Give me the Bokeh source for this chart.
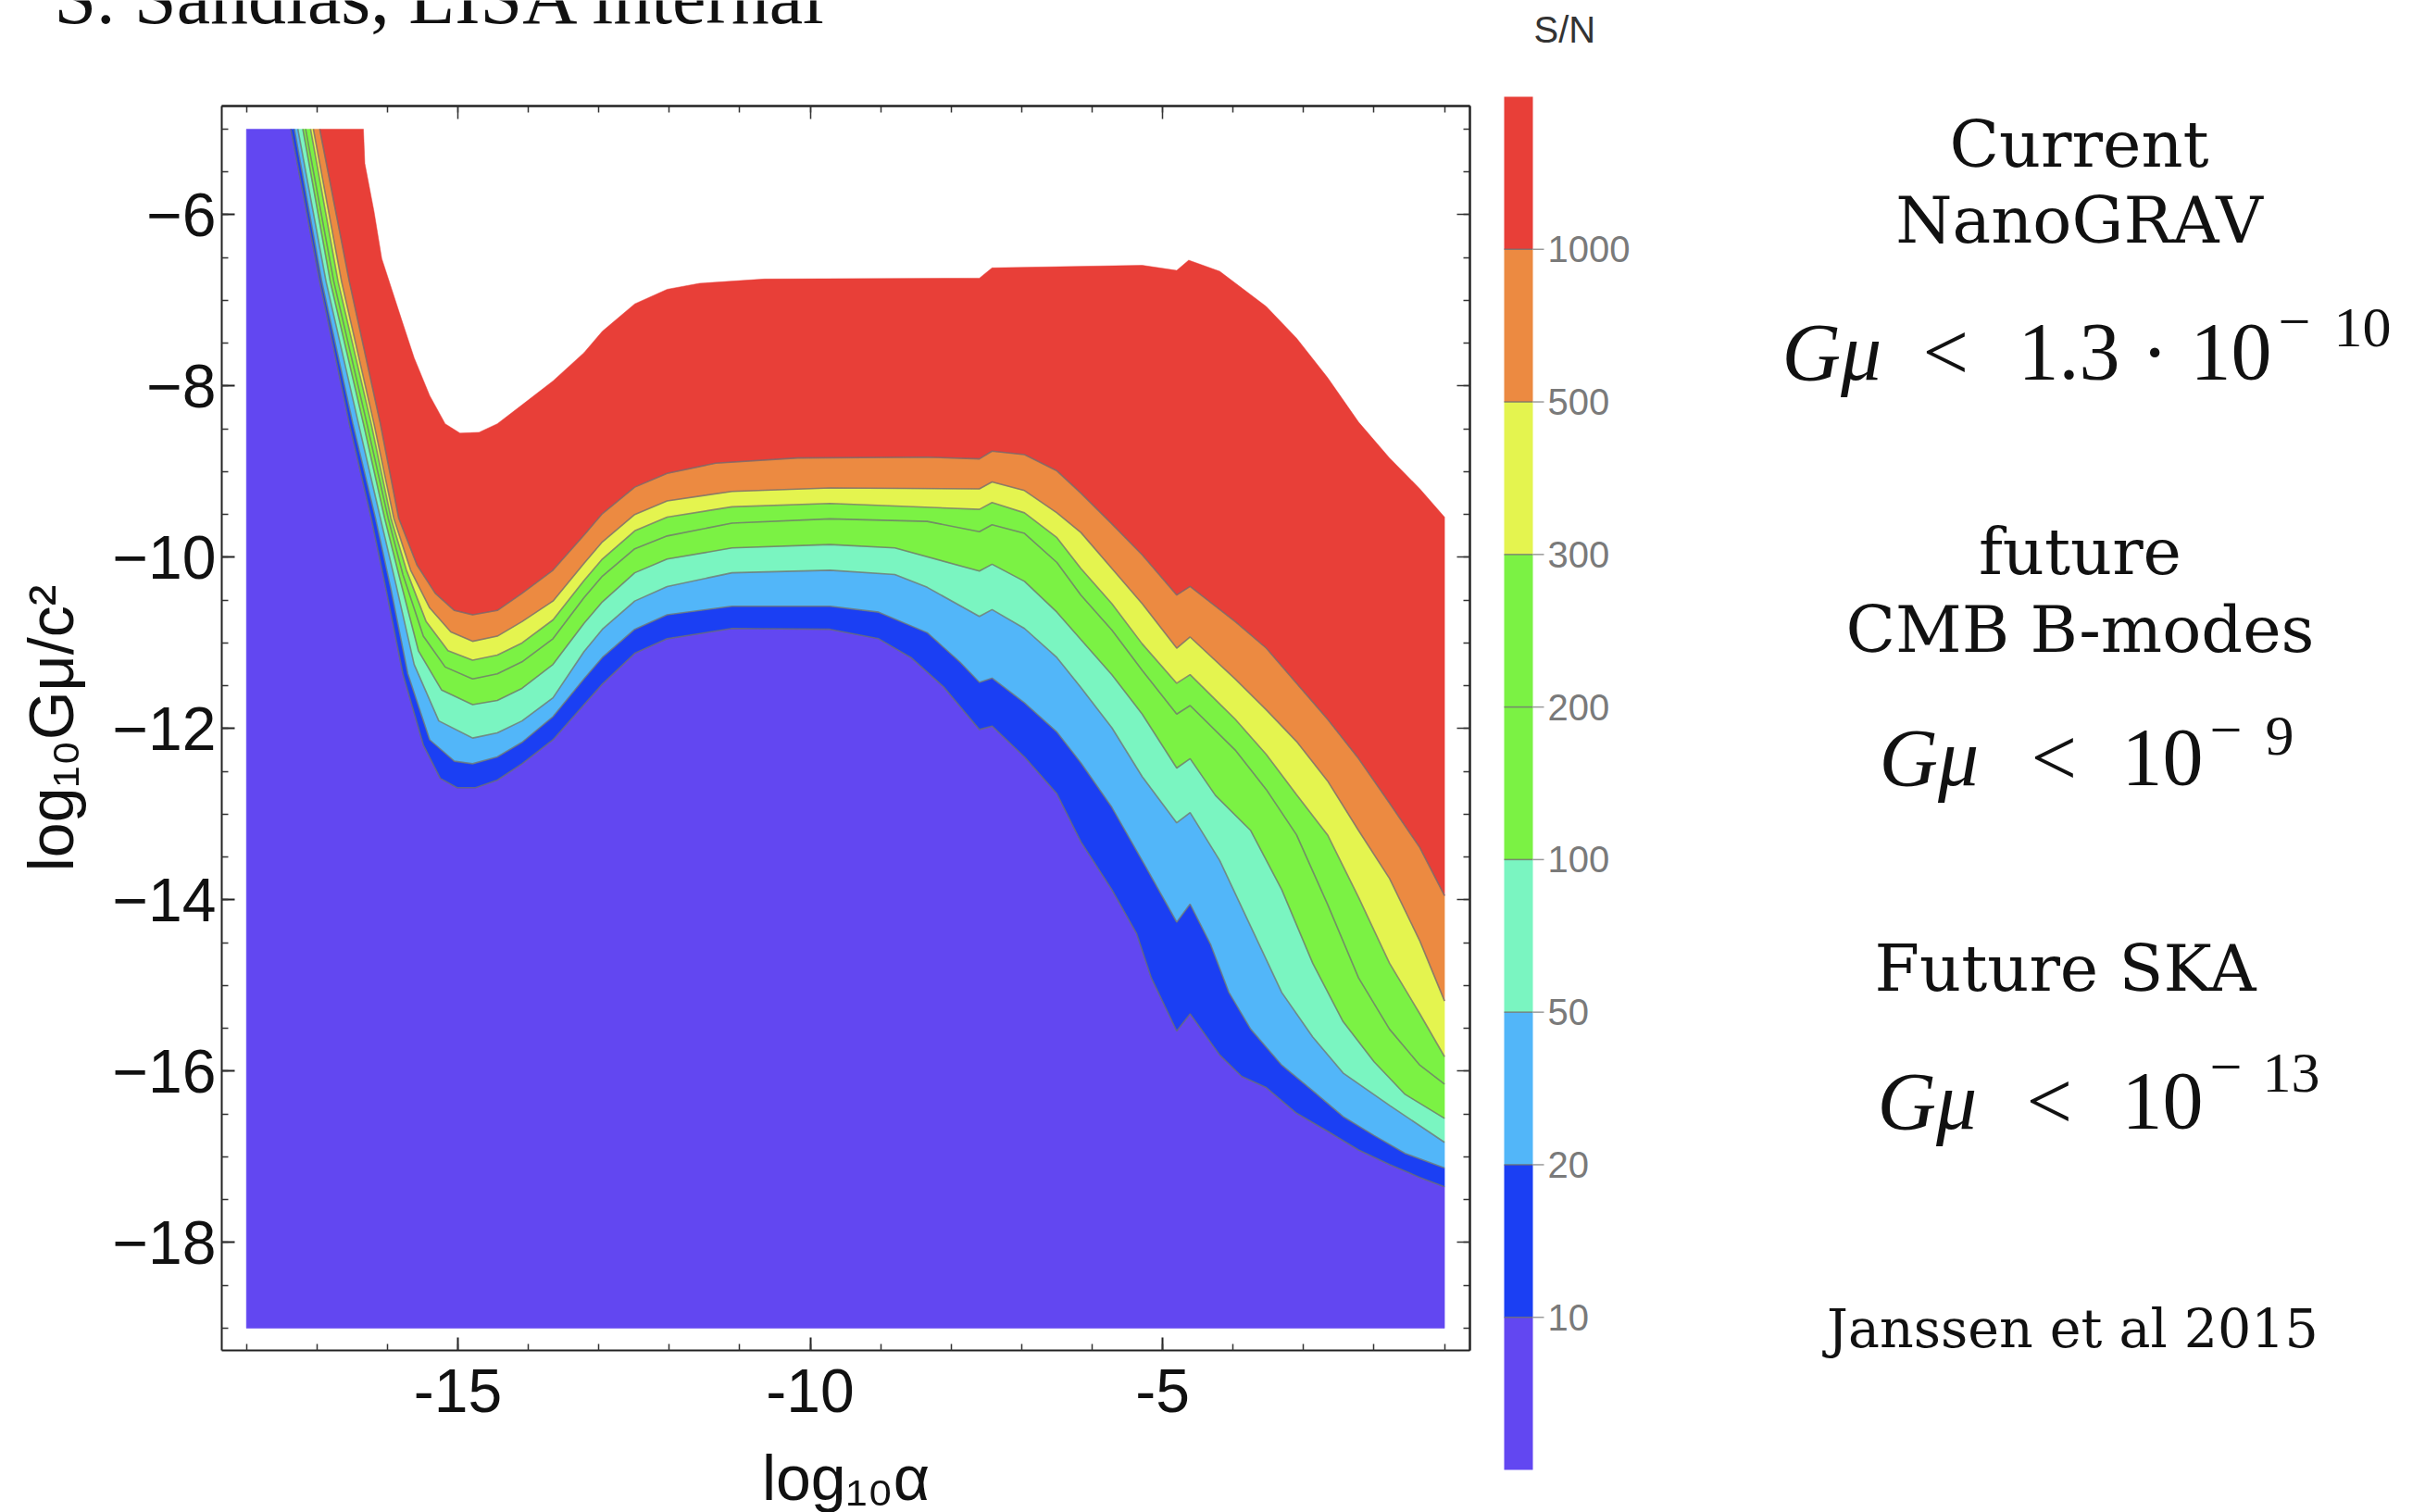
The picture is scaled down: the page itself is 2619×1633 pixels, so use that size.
from bokeh.plotting import figure
from bokeh.models import Range1d, FixedTicker, LinearAxis
from bokeh.embed import file_html
from bokeh.resources import INLINE
from bokeh.core.properties import value

# ---------------- data ----------------
alpha_min, alpha_max = -18.0, -1.0     # log10 alpha extent of computed region
gmu_min, gmu_max = -19.0, -5.0         # log10 G mu / c^2 extent
alpha_view = (-18.35, -0.64)           # axis frame limits
gmu_view = (-19.26, -4.73)

sn_levels = [10, 20, 50, 100, 200, 300, 500, 1000]
band_colors = ["#6247F1", "#1B3FF3", "#52B6F9", "#7AF5C1", "#7BF244",
               "#7BF244", "#E4F44F", "#EC8A41", "#E83F38"]

c10_x = [-17.37, -16.96, -16.54, -16.23, -16.02, -15.78, -15.49, -15.25, -15.01, -14.75, -14.44, -14.09,
         -13.65, -13.21, -12.95, -12.49, -12.03, -11.11, -9.72, -9.03, -8.57, -8.11, -7.60, -7.42, -6.96,
         -6.50, -6.16, -5.72, -5.37, -5.16, -4.80, -4.61, -4.19, -3.88, -3.53, -3.10, -2.66, -2.22, -1.78,
         -1.35, -1.00]
c10_y = [-5.00, -6.78, -8.44, -9.54, -10.37, -11.36, -12.19, -12.58, -12.69, -12.69, -12.60, -12.41,
         -12.13, -11.72, -11.48, -11.12, -10.95, -10.83, -10.84, -10.95, -11.17, -11.51, -12.01, -11.97,
         -12.33, -12.76, -13.32, -13.88, -14.39, -14.91, -15.53, -15.33, -15.81, -16.06, -16.19, -16.49,
         -16.70, -16.92, -17.09, -17.24, -17.35]
c20_x = [-17.32, -16.93, -16.49, -16.17, -15.95, -15.71, -15.40, -15.05, -14.79, -14.44, -14.09, -13.65,
         -13.21, -12.95, -12.49, -12.03, -11.11, -9.72, -9.03, -8.34, -7.88, -7.60, -7.42, -6.96, -6.50,
         -6.16, -5.72, -5.25, -4.80, -4.61, -4.32, -4.06, -3.75, -3.31, -2.87, -2.44, -2.00, -1.56, -1.00]
c20_y = [-5.00, -6.78, -8.44, -9.54, -10.37, -11.36, -12.13, -12.38, -12.41, -12.33, -12.16, -11.86,
         -11.42, -11.17, -10.84, -10.67, -10.57, -10.57, -10.64, -10.88, -11.22, -11.46, -11.41, -11.70,
         -12.04, -12.40, -12.92, -13.60, -14.26, -14.05, -14.52, -15.08, -15.51, -15.93, -16.23, -16.53,
         -16.75, -16.96, -17.13]
c50_x = [-17.27, -16.87, -16.41, -16.10, -15.88, -15.62, -15.27, -14.79, -14.44, -14.09, -13.65, -13.21,
         -12.95, -12.49, -12.03, -11.11, -9.72, -8.80, -8.34, -7.60, -7.42, -6.96, -6.50, -6.16, -5.72,
         -5.29, -4.80, -4.61, -4.19, -3.75, -3.31, -2.87, -2.44, -1.78, -1.00]
c50_y = [-5.00, -6.78, -8.44, -9.54, -10.31, -11.25, -11.91, -12.11, -12.05, -11.91, -11.64, -11.10,
         -10.84, -10.51, -10.34, -10.18, -10.15, -10.20, -10.35, -10.69, -10.61, -10.83, -11.17, -11.52,
         -11.99, -12.56, -13.10, -12.98, -13.54, -14.31, -15.08, -15.60, -16.02, -16.40, -16.83]
c100_x = [-17.20, -16.81, -16.34, -16.04, -15.82, -15.56, -15.23, -14.79, -14.44, -14.09, -13.65, -13.21,
          -12.95, -12.49, -12.03, -11.11, -9.72, -8.80, -7.60, -7.42, -6.96, -6.50, -6.16, -5.72, -5.29,
          -4.80, -4.61, -4.25, -3.75, -3.31, -2.87, -2.44, -2.00, -1.56, -1.00]
c100_y = [-5.00, -6.78, -8.44, -9.54, -10.26, -11.09, -11.55, -11.72, -11.67, -11.53, -11.25, -10.77,
          -10.52, -10.18, -10.02, -9.89, -9.85, -9.89, -10.16, -10.08, -10.28, -10.64, -10.96, -11.37,
          -11.83, -12.46, -12.35, -12.78, -13.19, -13.88, -14.74, -15.42, -15.89, -16.27, -16.55]
c200_x = [-17.16, -16.76, -16.29, -15.99, -15.78, -15.49, -15.18, -14.79, -14.44, -14.09, -13.65, -13.21,
          -12.95, -12.49, -12.03, -11.11, -9.72, -8.34, -7.60, -7.42, -6.96, -6.50, -6.16, -5.72, -5.29,
          -4.80, -4.61, -3.97, -3.53, -3.10, -2.66, -2.22, -1.78, -1.35, -1.00]
c200_y = [-5.00, -6.78, -8.44, -9.54, -10.20, -10.92, -11.28, -11.42, -11.36, -11.22, -10.95, -10.47,
          -10.22, -9.90, -9.75, -9.60, -9.55, -9.58, -9.70, -9.62, -9.72, -10.06, -10.44, -10.85, -11.32,
          -11.83, -11.73, -12.25, -12.71, -13.24, -14.05, -14.91, -15.51, -15.93, -16.15]
c300_x = [-17.09, -16.70, -16.23, -15.95, -15.73, -15.45, -15.14, -14.79, -14.44, -14.09, -13.65, -13.21,
          -12.95, -12.49, -12.03, -11.11, -9.72, -7.60, -7.42, -6.96, -6.50, -6.16, -5.72, -5.29, -4.80,
          -4.61, -3.97, -3.53, -3.10, -2.66, -2.22, -1.78, -1.35, -1.00]
c300_y = [-5.00, -6.78, -8.44, -9.54, -10.15, -10.75, -11.09, -11.20, -11.14, -11.00, -10.73, -10.27,
          -10.02, -9.69, -9.53, -9.41, -9.37, -9.44, -9.36, -9.48, -9.77, -10.13, -10.54, -11.01, -11.47,
          -11.37, -11.89, -12.30, -12.77, -13.24, -13.97, -14.74, -15.33, -15.83]
c500_x = [-17.05, -16.65, -16.19, -15.91, -15.67, -15.40, -15.10, -14.79, -14.44, -14.09, -13.65, -13.21,
          -12.95, -12.49, -12.03, -11.11, -9.72, -7.60, -7.42, -6.96, -6.50, -6.16, -5.72, -5.29, -4.80,
          -4.61, -3.97, -3.53, -3.10, -2.66, -2.22, -1.78, -1.35, -1.00]
c500_y = [-5.00, -6.78, -8.44, -9.54, -10.15, -10.59, -10.87, -10.98, -10.92, -10.75, -10.51, -10.07,
          -9.82, -9.50, -9.34, -9.23, -9.19, -9.20, -9.12, -9.22, -9.48, -9.71, -10.13, -10.54, -11.06,
          -10.93, -11.42, -11.78, -12.15, -12.61, -13.19, -13.75, -14.48, -15.18]
c1000_x = [-16.96, -16.54, -16.10, -15.84, -15.58, -15.32, -15.05, -14.79, -14.44, -14.09, -13.65, -13.21,
           -12.95, -12.49, -12.03, -11.34, -10.18, -8.34, -7.60, -7.42, -6.96, -6.50, -6.16, -5.72, -5.29,
           -4.80, -4.61, -3.97, -3.53, -3.10, -2.66, -2.22, -1.78, -1.35, -1.00]
c1000_y = [-5.00, -6.78, -8.44, -9.54, -10.09, -10.42, -10.62, -10.67, -10.62, -10.42, -10.15, -9.74,
           -9.49, -9.18, -9.02, -8.90, -8.84, -8.83, -8.85, -8.76, -8.80, -8.99, -9.25, -9.61, -9.97,
           -10.44, -10.34, -10.75, -11.06, -11.47, -11.89, -12.35, -12.87, -13.39, -13.95]
top_x = [-16.34, -16.32, -16.19, -16.08, -15.93, -15.80, -15.62, -15.40, -15.18, -14.97, -14.70, -14.44,
         -14.09, -13.65, -13.21, -12.95, -12.49, -12.03, -11.57, -10.65, -7.60, -7.42, -5.29, -4.80, -4.63,
         -4.19, -3.53, -3.10, -2.66, -2.22, -1.78, -1.35, -1.00]
top_y = [-5.00, -5.40, -5.96, -6.51, -6.89, -7.22, -7.67, -8.11, -8.44, -8.55, -8.54, -8.44, -8.22,
         -7.94, -7.61, -7.36, -7.04, -6.87, -6.80, -6.75, -6.74, -6.62, -6.59, -6.65, -6.53, -6.66, -7.07,
         -7.44, -7.90, -8.42, -8.84, -9.20, -9.53]

x_major = [-15, -10, -5]
x_minor = [-18, -17, -16, -15, -14, -13, -12, -11, -10, -9, -8, -7, -6, -5, -4, -3, -2, -1]
y_major = [-18, -16, -14, -12, -10, -8, -6]
y_minor = [-19, -18.5, -18, -17.5, -17, -16.5, -16, -15.5, -15, -14.5, -14, -13.5, -13, -12.5, -12,
           -11.5, -11, -10.5, -10, -9.5, -9, -8.5, -8, -7.5, -7, -6.5, -6, -5.5, -5]

# ---------------- page geometry (pixels) ----------------
W, H = 2619, 1633
fr_left, fr_right, fr_top, fr_bottom = 239, 1587, 114, 1458
kx = (fr_right - fr_left) / (alpha_view[1] - alpha_view[0])
ky = (fr_bottom - fr_top) / (gmu_view[1] - gmu_view[0])
alpha_range = Range1d(alpha_view[0] - fr_left / kx, alpha_view[1] + (W - fr_right) / kx)
gmu_range = Range1d(gmu_view[0] - (H - fr_bottom) / ky, gmu_view[1] + fr_top / ky)

p = figure(width=W, height=H, x_range=Range1d(0, W), y_range=Range1d(H, 0),
           output_backend="svg", toolbar_location=None, x_axis_type=None, y_axis_type=None,
           min_border=0, outline_line_color=None,
           background_fill_color="white", border_fill_color="white")
p.extra_x_ranges = {"alpha": alpha_range}
p.extra_y_ranges = {"gmu": gmu_range}

# ---- filled contour bands ----
curves = [(c10_x, c10_y), (c20_x, c20_y), (c50_x, c50_y), (c100_x, c100_y), (c200_x, c200_y),
          (c300_x, c300_y), (c500_x, c500_y), (c1000_x, c1000_y), (top_x, top_y)]
patch_xs = [[alpha_min, alpha_min] + c10_x + [alpha_max]]
patch_ys = [[gmu_min, gmu_max] + c10_y + [gmu_min]]
for (lx, ly), (ux, uy) in zip(curves[:-1], curves[1:]):
    patch_xs.append(lx + ux[::-1])
    patch_ys.append(ly + uy[::-1])
p.patches(xs=patch_xs, ys=patch_ys, fill_color=band_colors, line_color=band_colors, line_width=0.5,
          x_range_name="alpha", y_range_name="gmu")
p.multi_line(xs=[c[0] for c in curves[:-1]], ys=[c[1] for c in curves[:-1]],
             line_color="#6e6e6e", line_alpha=0.75, line_width=1.6,
             x_range_name="alpha", y_range_name="gmu")

# ---- frame axes (fixed at the frame edges) ----
def style(ax, tick_in, minor_in):
    ax.major_tick_in = tick_in
    ax.major_tick_out = 0
    ax.minor_tick_in = minor_in
    ax.minor_tick_out = 0
    ax.axis_line_color = "#222222"
    ax.axis_line_width = 2
    ax.major_tick_line_color = "#222222"
    ax.major_tick_line_width = 2
    ax.minor_tick_line_color = "#333333"
    ax.minor_tick_line_width = 1.5
    ax.major_label_text_font = "Liberation Sans"
    ax.major_label_text_font_size = "66px"
    ax.major_label_text_color = "#111111"
    ax.axis_label_text_font = "Liberation Sans"
    ax.axis_label_text_font_style = "normal"
    ax.axis_label_text_font_size = "68px"
    ax.axis_label_text_color = "#111111"

bottom_axis = LinearAxis(x_range_name="alpha", y_range_name="gmu", fixed_location=gmu_view[0],
                         bounds=alpha_view, ticker=FixedTicker(ticks=x_major, minor_ticks=x_minor),
                         axis_label="log₁₀α",
                         major_label_overrides={-15: "-15", -10: "-10", -5: "-5"})
style(bottom_axis, 14, 7)
bottom_axis.major_label_standoff = 20
bottom_axis.axis_label_standoff = 30
p.add_layout(bottom_axis, "below")

left_axis = LinearAxis(x_range_name="alpha", y_range_name="gmu", fixed_location=alpha_view[0],
                       bounds=gmu_view, ticker=FixedTicker(ticks=y_major, minor_ticks=y_minor),
                       axis_label="log₁₀Gμ/c²",
                       major_label_overrides={v: "−" + str(-v) for v in y_major})
style(left_axis, 14, 7)
left_axis.major_label_standoff = 6
left_axis.axis_label_standoff = 26
p.add_layout(left_axis, "left")

# top and right frame edges: tick marks only (no labels)
for ticks, tick_len in ((x_minor, 7), (x_major, 14)):
    ax = LinearAxis(x_range_name="alpha", y_range_name="gmu", fixed_location=gmu_view[1],
                    bounds=alpha_view, ticker=FixedTicker(ticks=[], minor_ticks=ticks))
    style(ax, 14, tick_len)
    p.add_layout(ax, "above")
for ticks, tick_len in ((y_minor, 7), (y_major, 14)):
    ax = LinearAxis(x_range_name="alpha", y_range_name="gmu", fixed_location=alpha_view[1],
                    bounds=gmu_view, ticker=FixedTicker(ticks=[], minor_ticks=ticks))
    style(ax, 14, tick_len)
    p.add_layout(ax, "right")

# text placed by its baseline (compensates the renderer's baseline offset)
BASE = 0.39
def page_text(xs, ys, texts, font, size, align="left", style="normal", color="#111111"):
    p.text(x=xs, y=[y - BASE * size for y in ys], text=texts, text_font=value(font),
           text_font_size=f"{size}px", text_font_style=style, text_color=color,
           text_align=align, text_baseline="alphabetic")

# ---- colour bar (page pixel coordinates) ----
cb_left, cb_right, cb_top, cb_bottom = 1624, 1655, 104, 1587
band_h = (cb_bottom - cb_top) / len(band_colors)
cb_bottoms = [cb_bottom - i * band_h for i in range(len(band_colors))]
cb_tops = [b - band_h for b in cb_bottoms]
p.quad(left=cb_left, right=cb_right, top=cb_tops, bottom=cb_bottoms, fill_color=band_colors,
       line_color=None)
bounds = cb_tops[:-1]
p.segment(x0=cb_left, x1=cb_right, y0=bounds, y1=bounds, line_color="#6e6e6e", line_alpha=0.8,
          line_width=1.5)
p.segment(x0=cb_right, x1=cb_right + 12, y0=bounds, y1=bounds, line_color="#9a9a9a", line_width=1.5)
p.text(x=[cb_right + 16] * len(sn_levels), y=bounds, text=[str(v) for v in sn_levels],
       text_font=value("Liberation Sans"), text_font_size="40px", text_color="#7a7a7a",
       text_baseline="middle", text_align="left")
page_text([1656], [47], ["S/N"], "Liberation Sans", 40, color="#333333")

# ---- header (cut off at the page top, as in the slide) ----
page_text([58], [29], ["S. Sandias, LISA internal"], "Liberation Serif", 82)

# ---- descriptive text blocks ----
page_text([2245, 2245, 2246, 2246, 2230], [183, 265, 623, 707, 1073],
          ["Current", "NanoGRAV", "future", "CMB B-modes", "Future SKA"], "DejaVu Serif", 70,
          align="center")
page_text([2238], [1457], ["Janssen et al 2015"], "DejaVu Serif", 57, align="center")

# math: G mu < bound
page_text([1924, 2029, 2027], [414, 852, 1223], ["Gμ", "Gμ", "Gμ"], "Liberation Serif", 88,
          style="italic")
page_text([2076, 2179, 2312, 2365, 2193, 2291, 2188, 2291], [414, 414, 414, 414, 852, 852, 1223, 1223],
          ["<", "1.3", "·", "10", "<", "10", "<", "10"], "Liberation Serif", 88)
page_text([2520, 2446, 2443], [378, 819, 1183], ["10", "9", "13"], "Liberation Serif", 62)
page_text([2460, 2386, 2386], [372, 813, 1177], ["−", "−", "−"], "Liberation Serif", 62)

open("out.html", "w").write(file_html(p, INLINE))
